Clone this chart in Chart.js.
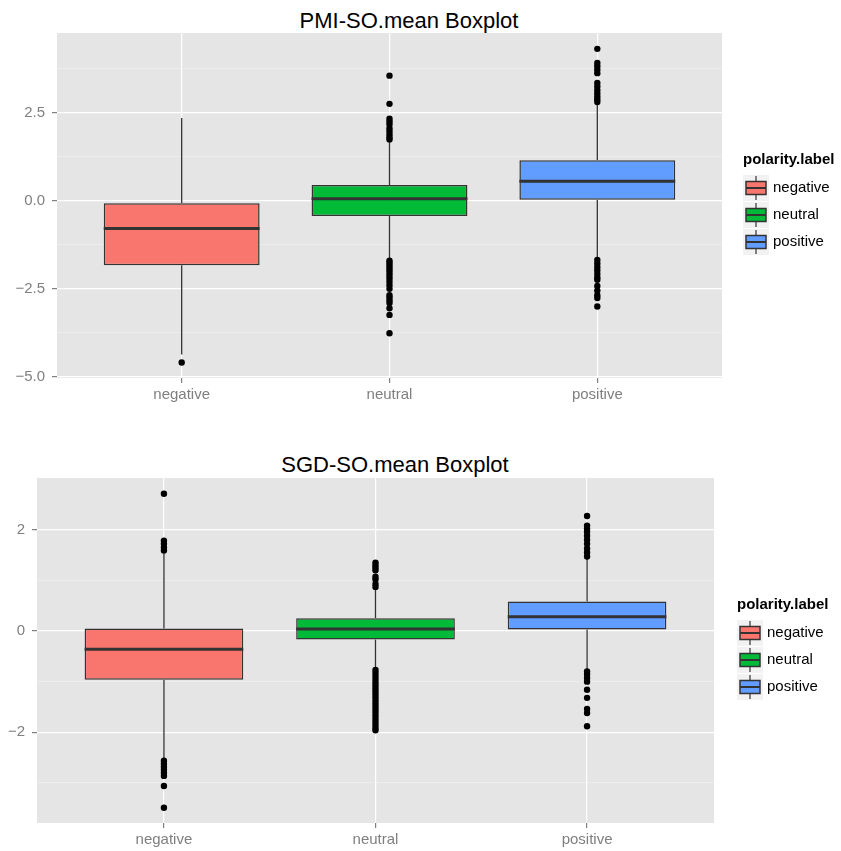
<!DOCTYPE html>
<html lang="en">
<head>
<meta charset="UTF-8" />
<title>SO.mean Boxplots</title>
<script src="https://cdn.jsdelivr.net/npm/chart.js"></script>
<style>
    body {
        margin: 0;
        background: #fff;
        font-family: "Liberation Sans", Arial, sans-serif;
    }
    .plot-title {
        position: absolute;
        left: 0;
        font-size: 22px;
        line-height: 22px;
        text-align: center;
        color: #000;
        white-space: nowrap;
    }
    canvas { position: absolute; left: 0; }
</style>
</head>
<body>
    <div class="plot-title" style="top: 10px; width: 818px;">PMI-SO.mean Boxplot</div>
    <canvas id="pmiChart" width="841" height="425" style="top: 0;"></canvas>

    <div class="plot-title" style="top: 454px; width: 790px;">SGD-SO.mean Boxplot</div>
    <canvas id="sgdChart" width="841" height="426" style="top: 425px;"></canvas>

<script>
const categories = ['negative', 'neutral', 'positive'];
const fillColors = ['#F8766D', '#00BA38', '#619CFF'];

// PMI-SO.mean per polarity label
const pmiLower  = [-4.36, -1.65, -1.62];
const pmiQ1     = [-1.83, -0.43, 0.03];
const pmiMedian = [-0.79, 0.06, 0.55];
const pmiQ3     = [-0.07, 0.45, 1.15];
const pmiUpper  = [2.35, 1.70, 2.76];
const pmiOutliersNeg = [-4.59];
const pmiOutliersNeu = [3.55, 2.75, 2.33, 2.25, 2.17, 2.06, 1.97, 1.88, 1.80, 1.74,
    -1.70, -1.76, -1.83, -1.90, -1.97, -2.05, -2.13, -2.21, -2.30, -2.40, -2.50,
    -2.68, -2.75, -2.83, -2.90, -3.05, -3.24, -3.76];
const pmiOutliersPos = [4.31, 3.91, 3.82, 3.72, 3.62, 3.34, 3.24, 3.14, 3.05, 2.96, 2.88, 2.80,
    -1.68, -1.78, -1.88, -1.97, -2.08, -2.18, -2.24, -2.42, -2.55, -2.68, -2.76, -3.00];
const pmiTicks = [-5, -2.5, 0, 2.5];
const pmiTickLabels = ['\u22125.0', '\u22122.5', '0.0', '2.5'];
const pmiMinorTicks = [-3.75, -1.25, 1.25, 3.75];

// SGD-SO.mean per polarity label
const sgdLower  = [-2.51, -0.73, -0.77];
const sgdQ1     = [-0.96, -0.17, 0.03];
const sgdMedian = [-0.36, 0.04, 0.28];
const sgdQ3     = [0.05, 0.25, 0.58];
const sgdUpper  = [1.53, 0.82, 1.42];
const sgdOutliersNeg = [2.71, 1.78, 1.72, 1.65, 1.59,
    -2.56, -2.62, -2.68, -2.74, -2.80, -2.86, -3.06, -3.49];
const sgdOutliersNeu = [1.35, 1.30, 1.25, 1.20, 1.07, 1.02, 0.93, 0.87,
    -0.77, -0.83, -0.89, -0.95, -1.01, -1.07, -1.13, -1.19, -1.25, -1.31, -1.37,
    -1.43, -1.49, -1.55, -1.61, -1.67, -1.73, -1.79, -1.85, -1.91, -1.96];
const sgdOutliersPos = [2.27, 2.08, 2.02, 1.96, 1.88, 1.80, 1.72, 1.63, 1.55, 1.47,
    -0.80, -0.86, -0.93, -1.00, -1.16, -1.32, -1.54, -1.62, -1.88];
const sgdTicks = [-2, 0, 2];
const sgdTickLabels = ['\u22122', '0', '2'];
const sgdMinorTicks = [-3, -1, 1];

const FONT = '"Liberation Sans", Arial, sans-serif';
const INK = '#333333';

Chart.defaults.font.family = FONT;
Chart.defaults.font.size = 15;
Chart.defaults.color = '#7F7F7F';

function buildBoxplot(canvasId, s) {
    // grey panel behind the grid
    const panelBackground = {
        id: 'panelBackground',
        beforeDraw(chart) {
            const { ctx, chartArea: a } = chart;
            ctx.save();
            ctx.fillStyle = '#E5E5E5';
            ctx.fillRect(a.left, a.top, a.right - a.left, a.bottom - a.top);
            ctx.restore();
        }
    };

    // whiskers and median bars, drawn right after the boxes
    const whiskers = {
        id: 'whiskers',
        afterDatasetDraw(chart, args) {
            if (args.index !== 0) return;
            const { ctx, scales: { x, y } } = chart;
            ctx.save();
            ctx.strokeStyle = INK;
            categories.forEach((c, i) => {
                const cx = x.getPixelForValue(i);
                ctx.lineWidth = 1.3;
                ctx.beginPath();
                ctx.moveTo(cx, y.getPixelForValue(s.q3[i]));
                ctx.lineTo(cx, y.getPixelForValue(s.upper[i]));
                ctx.moveTo(cx, y.getPixelForValue(s.q1[i]));
                ctx.lineTo(cx, y.getPixelForValue(s.lower[i]));
                ctx.stroke();

                const half = args.meta.data[i].width / 2;
                const my = y.getPixelForValue(s.median[i]);
                ctx.lineWidth = 3;
                ctx.beginPath();
                ctx.moveTo(cx - half, my);
                ctx.lineTo(cx + half, my);
                ctx.stroke();
            });
            ctx.restore();
        }
    };

    // ggplot-style fill legend with little boxplot keys
    const boxLegend = {
        id: 'boxLegend',
        afterDraw(chart) {
            const { ctx, chartArea: a } = chart;
            const cy = (a.top + a.bottom) / 2;
            const x0 = a.right + s.legendDx;
            ctx.save();
            ctx.textBaseline = 'middle';
            ctx.textAlign = 'left';
            ctx.fillStyle = '#000';
            ctx.font = 'bold 15px ' + FONT;
            ctx.fillText('polarity.label', x0, cy - 46);

            categories.forEach((name, i) => {
                const ky = cy - 30.5 + i * 27;
                ctx.fillStyle = '#F2F2F2';
                ctx.fillRect(x0, ky, 26, 26);

                ctx.strokeStyle = INK;
                ctx.lineWidth = 1.2;
                ctx.beginPath();
                ctx.moveTo(x0 + 13, ky + 1);
                ctx.lineTo(x0 + 13, ky + 25);
                ctx.stroke();

                ctx.fillStyle = fillColors[i];
                ctx.fillRect(x0 + 3, ky + 6.5, 20, 13);
                ctx.lineWidth = 1.5;
                ctx.strokeRect(x0 + 3, ky + 6.5, 20, 13);
                ctx.lineWidth = 2;
                ctx.beginPath();
                ctx.moveTo(x0 + 3, ky + 13);
                ctx.lineTo(x0 + 23, ky + 13);
                ctx.stroke();

                ctx.fillStyle = '#000';
                ctx.font = '15px ' + FONT;
                ctx.fillText(name, x0 + 30, ky + 12.5);
            });
            ctx.restore();
        }
    };

    const boxes = categories.map((c, i) => ({ x: i, y: [s.q1[i], s.q3[i]] }));
    const points = [];
    s.outliers.forEach((list, i) => list.forEach(v => points.push({ x: i, y: v })));

    const isMajor = v => s.ticks.includes(v);

    return new Chart(document.getElementById(canvasId), {
        type: 'bar',
        data: {
            datasets: [
                {
                    type: 'bar',
                    data: boxes,
                    backgroundColor: fillColors,
                    borderColor: INK,
                    borderWidth: 1.5,
                    borderSkipped: false,
                    barPercentage: 0.75,
                    categoryPercentage: 1,
                    order: 1
                },
                {
                    type: 'scatter',
                    data: points,
                    backgroundColor: '#000',
                    borderWidth: 0,
                    pointRadius: 3.2,
                    order: 0
                }
            ]
        },
        options: {
            responsive: false,
            animation: false,
            events: [],
            layout: { padding: { top: s.padTop, right: s.padRight, left: 0, bottom: 0 } },
            plugins: {
                legend: { display: false },
                tooltip: { enabled: false },
                title: { display: false }
            },
            scales: {
                x: {
                    type: 'linear',
                    min: -0.6,
                    max: 2.6,
                    offset: false,
                    border: { display: false },
                    grid: {
                        offset: false,
                        color: '#FFFFFF',
                        lineWidth: 1.2,
                        tickColor: '#7F7F7F',
                        tickLength: 5
                    },
                    ticks: {
                        autoSkip: false,
                        padding: 3,
                        callback: v => categories[v]
                    },
                    afterBuildTicks: axis => {
                        axis.ticks = categories.map((c, i) => ({ value: i }));
                    },
                    afterFit: axis => { axis.height = s.xAxisHeight; }
                },
                y: {
                    type: 'linear',
                    min: s.yMin,
                    max: s.yMax,
                    border: { display: false },
                    grid: {
                        color: ctx => isMajor(ctx.tick.value) ? '#FFFFFF' : '#F2F2F2',
                        lineWidth: ctx => isMajor(ctx.tick.value) ? 1.2 : 0.6,
                        tickColor: ctx => isMajor(ctx.tick.value) ? '#7F7F7F' : 'rgba(0,0,0,0)',
                        tickLength: 5
                    },
                    ticks: {
                        autoSkip: false,
                        padding: 7,
                        callback: v => {
                            const k = s.ticks.indexOf(v);
                            return k >= 0 ? s.tickLabels[k] : '';
                        }
                    },
                    afterBuildTicks: axis => {
                        axis.ticks = s.ticks.concat(s.minor)
                            .sort((a, b) => a - b)
                            .map(v => ({ value: v }));
                    },
                    afterFit: axis => { axis.width = s.yAxisWidth; }
                }
            }
        },
        plugins: [panelBackground, whiskers, boxLegend]
    });
}

buildBoxplot('pmiChart', {
    lower: pmiLower, q1: pmiQ1, median: pmiMedian, q3: pmiQ3, upper: pmiUpper,
    outliers: [pmiOutliersNeg, pmiOutliersNeu, pmiOutliersPos],
    ticks: pmiTicks, tickLabels: pmiTickLabels, minor: pmiMinorTicks,
    yMin: -5.03, yMax: 4.76,
    yAxisWidth: 57, xAxisHeight: 47, padTop: 33, padRight: 119, legendDx: 21
});

buildBoxplot('sgdChart', {
    lower: sgdLower, q1: sgdQ1, median: sgdMedian, q3: sgdQ3, upper: sgdUpper,
    outliers: [sgdOutliersNeg, sgdOutliersNeu, sgdOutliersPos],
    ticks: sgdTicks, tickLabels: sgdTickLabels, minor: sgdMinorTicks,
    yMin: -3.79, yMax: 3.02,
    yAxisWidth: 37, xAxisHeight: 28, padTop: 53, padRight: 127, legendDx: 23
});
</script>
</body>
</html>
